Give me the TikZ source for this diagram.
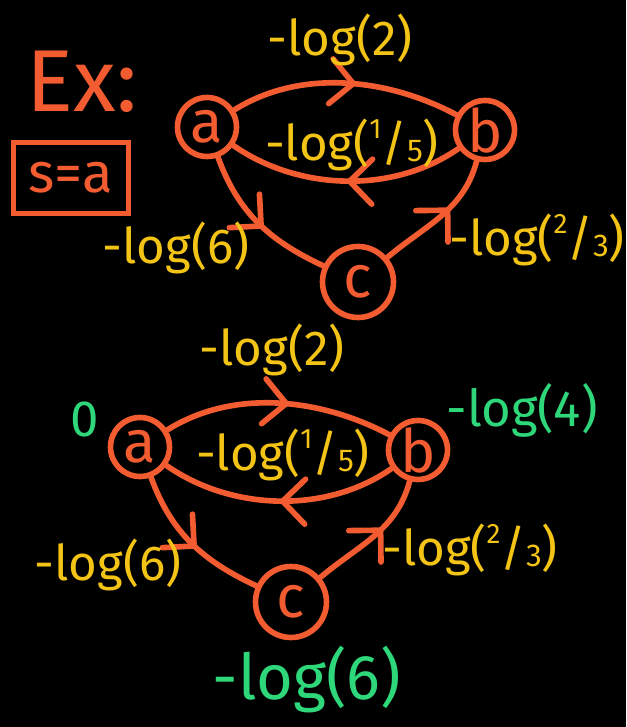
\documentclass[tikz,border=0pt]{standalone}
\usepackage{fontspec}
\setmainfont{Fira Sans}
\usepackage{tikz}
\usetikzlibrary{arrows.meta,decorations.markings}
\definecolor{ink}{HTML}{F25C30}
\definecolor{gold}{HTML}{F3C416}
\definecolor{mint}{HTML}{2FD77B}
\newcommand{\fr}[2]{\raisebox{.45em}{\fontsize{16}{16}\selectfont#1}/\raisebox{-.02em}{\fontsize{18}{18}\selectfont#2}}

\begin{document}
\begin{tikzpicture}[
        x=0.02cm, y=0.02cm,
        line width=3.2pt, line cap=round,
        every node/.append style={inner sep=0pt},
        arr/.style={postaction={decorate,decoration={markings,
            mark=at position #1 with {\arrow{Straight Barb[length=4.5mm,width=9mm,line cap=round]}}}}}
    ]
    \tikzstyle{st}=[draw=ink,shape=circle,minimum size=1.18cm,text=ink,font=\fontsize{34}{34}\selectfont];
    \tikzstyle{wt}=[text=gold,font=\fontsize{28}{28}\selectfont];
    \tikzstyle{dist}=[text=mint,font=\fontsize{29}{29}\selectfont];
    \fill[black] (0,0) rectangle (626,727);
    \useasboundingbox (0,0) rectangle (626,727);
    % title
    \node[text=ink,font=\fontsize{50}{50}\selectfont] (ex) at (82,645) {Ex:};
    \node[draw=ink,text=ink,minimum width=2.3cm,minimum height=1.42cm,font=\fontsize{32}{32}\selectfont] (src) at (71,549) {s=a};
    % first
    \begin{scope}
        \node[st] (a) at (207,600) {a};
        \node[st] (b) at (485,597) {b};
        \node[st,minimum size=1.42cm] (c) at (358,445) {c};
        \draw[ink,arr=0.55] (a) to[out=32,in=152,looseness=0.9] (b);
        \draw[ink,arr=0.5] (b) to[out=-145,in=-35,looseness=0.9] (a);
        \draw[ink,arr=0.55] (a) to[out=-70,in=155] (c);
        \draw[ink,arr=0.6] (c) to[out=40,in=-105] (b);
        \node[wt] (wab) at (340,687) {-log(2)};
        \node[wt] (wba) at (352,582) {-log(\fr{1}{5})};
        \node[wt] (wac) at (176,479) {-log(6)};
        \node[wt] (wcb) at (537,487) {-log(\fr{2}{3})};
    \end{scope}
    % second
    \begin{scope}[shift={(-67,-320)}]
        \node[st] (a) at (207,600) {a};
        \node[st] (b) at (485,597) {b};
        \node[st,minimum size=1.42cm] (c) at (358,445) {c};
        \draw[ink,arr=0.55] (a) to[out=32,in=152,looseness=0.9] (b);
        \draw[ink,arr=0.5] (b) to[out=-145,in=-35,looseness=0.9] (a);
        \draw[ink,arr=0.55] (a) to[out=-70,in=155] (c);
        \draw[ink,arr=0.6] (c) to[out=40,in=-105] (b);
        \node[wt] (wab) at (339,697) {-log(2)};
        \node[wt] (wba) at (350,592) {-log(\fr{1}{5})};
        \node[wt] (wac) at (175,482) {-log(6)};
        \node[wt] (wcb) at (537,497) {-log(\fr{2}{3})};
        \node[dist] (da) at (152,627) {0};
        \node[dist] (db) at (589,637) {-log(4)};
        \node[dist,font=\fontsize{36}{36}\selectfont] (dc) at (374,367) {-log(6)};
    \end{scope}
\end{tikzpicture}
\end{document}
